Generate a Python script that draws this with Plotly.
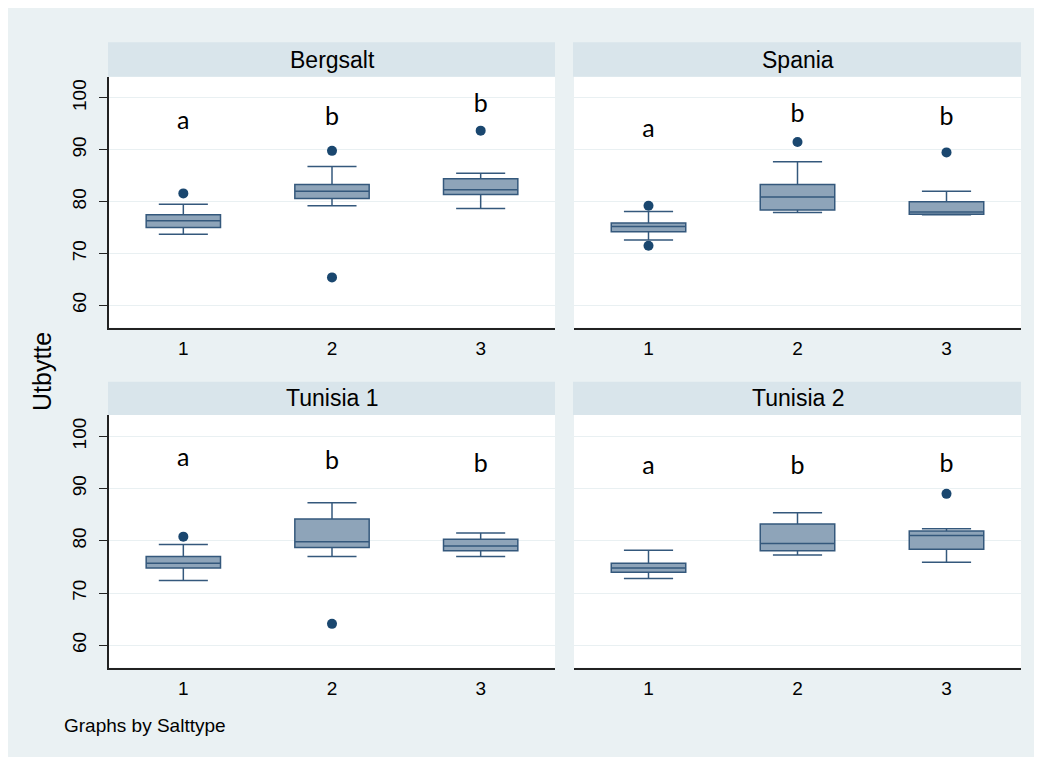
import plotly.graph_objects as go

# Salttype panels, Saltgruppe 1-3 on x
panels = ["Bergsalt", "Spania", "Tunisia 1", "Tunisia 2"]
groups = [1, 2, 3]

# box statistics per panel
lower = [[73.7, 79.2, 78.7], [72.6, 77.9, 77.5], [72.4, 77.0, 77.0], [72.8, 77.3, 75.9]]
q1 = [[75.0, 80.6, 81.4], [74.2, 78.4, 77.6], [74.8, 78.7, 78.1], [74.0, 78.1, 78.4]]
median = [[76.3, 82.0, 82.3], [75.2, 80.9, 78.0], [75.7, 79.8, 79.0], [74.8, 79.5, 81.0]]
q3 = [[77.5, 83.3, 84.4], [75.9, 83.3, 80.0], [77.0, 84.2, 80.3], [75.7, 83.2, 81.9]]
upper = [[79.5, 86.8, 85.5], [78.1, 87.7, 82.0], [79.3, 87.3, 81.5], [78.2, 85.4, 82.3]]

# outside values
out_x = [[1, 2, 2, 3], [1, 1, 2, 3], [1, 2], [3]]
out_y = [[81.6, 89.8, 65.4, 93.7], [79.2, 71.5, 91.5, 89.5], [80.8, 64.1], [89.0]]

# significance letters
letters = ["a", "b", "b"]
letter_y = [[95.3, 96.0, 98.4], [93.6, 96.5, 96.0], [95.5, 94.9, 94.3], [94.0, 94.0, 94.3]]

# page body keeps an 8px margin, so the figure is drawn 8px in from the top/left
OFF = 8
W, H = 1042 - OFF, 765 - 2 * OFF
BG = "#eaf1f3"
STRIP = "#d9e5eb"
NAVY = "#1a476f"
FONT = "Liberation Sans, Arial"


def px(x):
    return (x - OFF) / W


def py(y):
    return (H - (y - OFF)) / H


# panel rectangles in page pixels
px_x = [(109, 555), (574, 1021)]
px_y = [(76.7, 327.7), (415, 667.7)]
strip_y = [(42.3, 76.7), (381.7, 415)]

fig = go.Figure()

for i, name in enumerate(panels):
    n = i + 1
    xa = "x" if n == 1 else f"x{n}"
    ya = "y" if n == 1 else f"y{n}"

    fig.add_trace(go.Box(
        x=groups, q1=q1[i], median=median[i], q3=q3[i],
        lowerfence=lower[i], upperfence=upper[i],
        width=0.5, whiskerwidth=0.66, boxpoints=False,
        fillcolor="#8ea4b9", line=dict(color="#34587c", width=1.5),
        xaxis=xa, yaxis=ya, showlegend=False, hoverinfo="skip"
    ))
    fig.add_trace(go.Scatter(
        x=out_x[i], y=out_y[i], mode="markers",
        marker=dict(color=NAVY, size=10),
        xaxis=xa, yaxis=ya, showlegend=False, hoverinfo="skip"
    ))
    fig.add_trace(go.Scatter(
        x=groups, y=letter_y[i], mode="text", text=letters,
        textfont=dict(family="Lato", size=25, color="black"),
        xaxis=xa, yaxis=ya, showlegend=False, hoverinfo="skip"
    ))

    col, row = i % 2, i // 2
    x0, x1 = px_x[col]
    yt, yb = px_y[row]
    left = col == 0

    fig.layout[f"xaxis{'' if n == 1 else n}"] = dict(
        domain=[px(x0), px(x1)], anchor=ya, range=[0.5, 3.5],
        tickvals=groups, ticks="", showgrid=False, zeroline=False,
        showline=True, linecolor="#222", linewidth=1.5,
        tickfont=dict(family=FONT, size=19, color="black"),
        ticklabelstandoff=3, fixedrange=True
    )
    fig.layout[f"yaxis{'' if n == 1 else n}"] = dict(
        domain=[py(yb), py(yt)], anchor=xa, range=[55.7, 104.1],
        tickvals=[60, 70, 80, 90, 100], showgrid=True, gridcolor="#e9f0f2", gridwidth=1.2,
        zeroline=False, showline=left, linecolor="#222", linewidth=1.5,
        ticks="outside" if left else "", ticklen=8, tickcolor="#222",
        showticklabels=left, tickangle=-90,
        tickfont=dict(family=FONT, size=19, color="black"),
        ticklabelstandoff=6, fixedrange=True
    )

    # strip header
    sy0, sy1 = strip_y[row]
    fig.add_shape(type="rect", xref="paper", yref="paper", layer="below",
                  x0=px(x0 - 1), x1=px(x1), y0=py(sy1), y1=py(sy0),
                  fillcolor=STRIP, line_width=0)
    fig.add_annotation(text=name, xref="paper", yref="paper", showarrow=False,
                       x=px((x0 + x1) / 2), y=py((sy0 + sy1) / 2),
                       xanchor="center", yanchor="middle",
                       font=dict(family=FONT, size=23, color="black"))

fig.add_annotation(text="Utbytte", xref="paper", yref="paper", showarrow=False,
                   x=px(42), y=py(372), textangle=-90, xanchor="center", yanchor="middle",
                   font=dict(family=FONT, size=25, color="black"))
fig.add_annotation(text="Graphs by Salttype", xref="paper", yref="paper", showarrow=False,
                   x=px(62), y=py(725), xanchor="left", yanchor="middle",
                   font=dict(family=FONT, size=19, color="black"))

fig.update_layout(
    width=W, height=H, margin=dict(l=0, r=0, t=0, b=0),
    paper_bgcolor=BG, plot_bgcolor="white", showlegend=False
)

fig.write_html("out.html")
